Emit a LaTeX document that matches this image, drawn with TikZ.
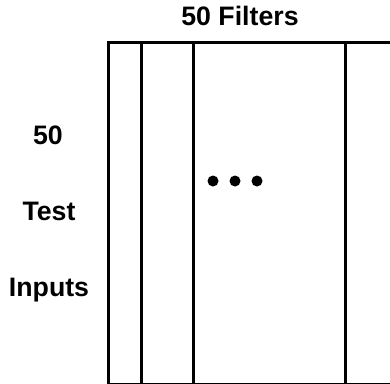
\documentclass[tikz,border=0pt]{standalone}
\usepackage{fontspec}
\setmainfont{Liberation Sans}
\begin{document}
\begin{tikzpicture}[x=1pt,y=-1pt,
  lbl/.style={font=\fontsize{26.7}{32}\selectfont\bfseries, anchor=base, inner sep=0pt},
  edge/.style={line width=3pt},
  dot/.style={fill=black, circle, inner sep=0pt, minimum size=11pt}]
\useasboundingbox (0,0) rectangle (390,383);
\clip (0,0) rectangle (390,383);
\node[lbl] (title) at (240,25) {50 Filters};
\node[lbl] (l1) at (48,144) {50};
\node[lbl] (l2) at (49,220) {Test};
\node[lbl] (l3) at (49,296) {Inputs};
\draw[edge] (108,42) rectangle (400,384);
\draw[edge] (141,42) -- (141,384);
\draw[edge] (193,42) -- (193,384);
\draw[edge] (345,42) -- (345,384);
\node[dot] (d1) at (213,181) {};
\node[dot] (d2) at (235,181) {};
\node[dot] (d3) at (257,181) {};
\end{tikzpicture}
\end{document}
